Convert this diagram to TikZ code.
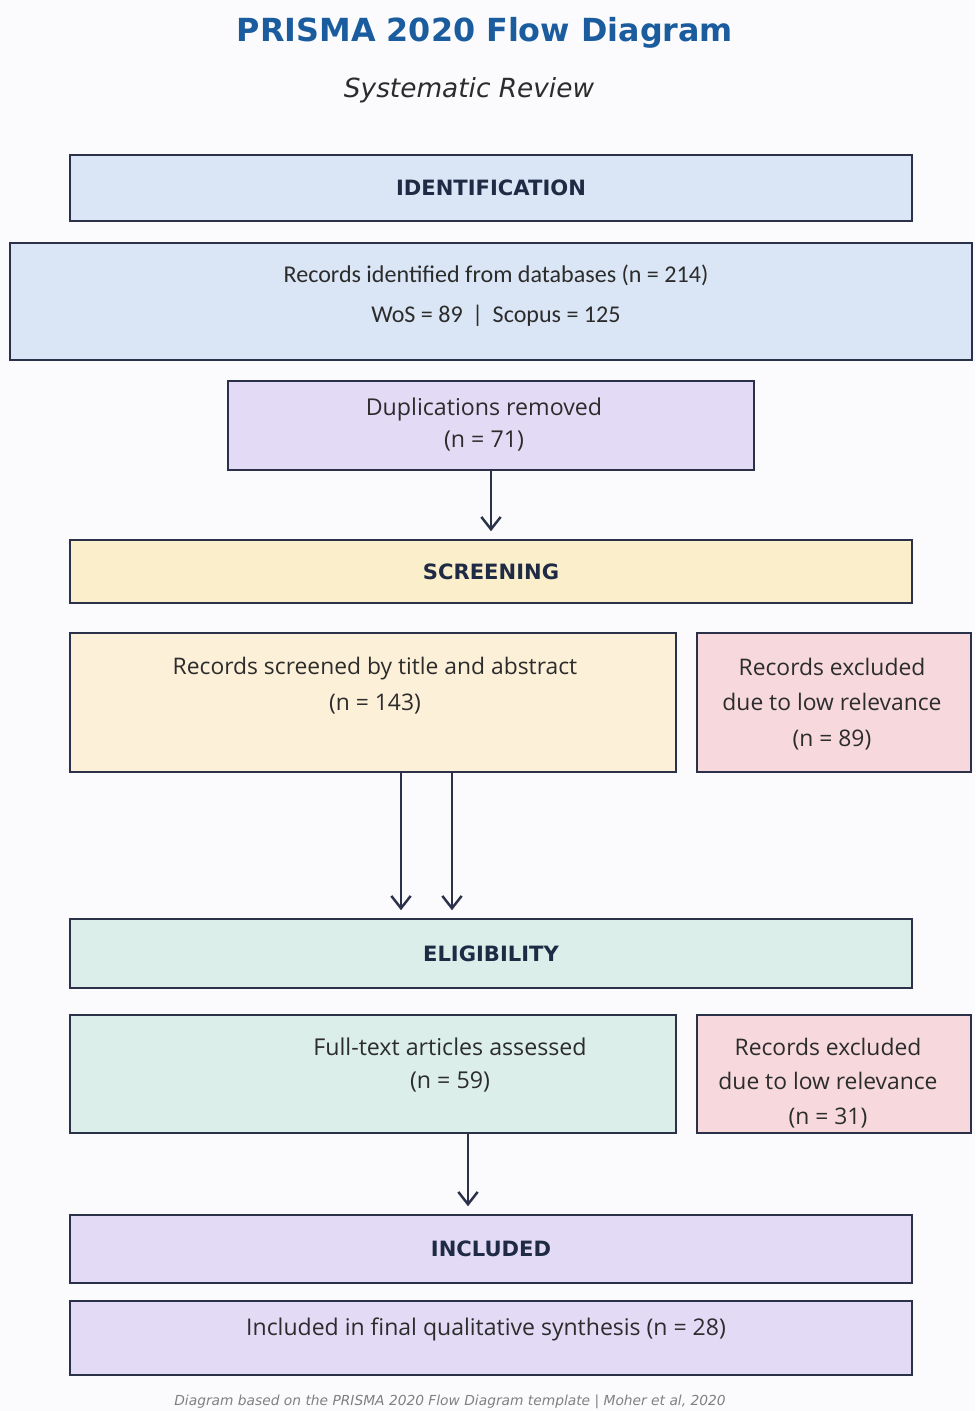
\documentclass[tikz,border=0pt]{standalone}
\usepackage{fontspec}
\setmainfont{DejaVu Sans}
\newfontfamily\bodyfont{Open Sans}
\newfontfamily\idfont{Carlito}
\usetikzlibrary{arrows.meta}

\definecolor{edge}{HTML}{2A3149}
\definecolor{bgcol}{HTML}{FBFBFD}
\definecolor{titleblue}{HTML}{1B5C9E}
\definecolor{headtxt}{HTML}{1F2A44}
\definecolor{bodytxt}{HTML}{2C2C2C}
\definecolor{idfill}{HTML}{DAE6F5}
\definecolor{lavfill}{HTML}{E3DBF6}
\definecolor{scrhfill}{HTML}{FBEFCB}
\definecolor{scrfill}{HTML}{FDF0D8}
\definecolor{excfill}{HTML}{F6D8DD}
\definecolor{eligfill}{HTML}{DBEEEA}

\begin{document}
\begin{tikzpicture}[x=0.02cm, y=-0.02cm,
        box/.style={rectangle, draw=edge, line width=1.1pt, inner sep=0pt, outer sep=0pt},
        header/.style={box, minimum width=16.84cm, text=headtxt,
            font=\bfseries\fontsize{12}{14}\selectfont},
        bodytext/.style={font=\bodyfont\fontsize{13}{20.4}\selectfont, text=bodytxt, align=center},
        flow/.style={draw=edge, line width=1.4pt, shorten >=5pt,
            -{Straight Barb[length=7pt, width=11pt]}}
    ]
    % Sfondo e cornice
    \fill[bgcol] (0,0) rectangle (975,1411);
    \useasboundingbox (0,0) rectangle (975,1411);

    % Titolo
    \node[font=\bfseries\fontsize{18.1}{21}\selectfont, text=titleblue] (title) at (485,33) {PRISMA 2020 Flow Diagram};
    \node[font=\itshape\fontsize{15}{18}\selectfont, text=bodytxt] (subtitle) at (469,90) {Systematic Review};

    % Identification
    \node[header, fill=idfill, minimum height=1.32cm] (idhead) at (491,188) {IDENTIFICATION};
    \node[box, fill=idfill, minimum width=19.24cm, minimum height=2.34cm] (ids) at (491,301.5) {};
    \node[font=\idfont\fontsize{13.7}{22.7}\selectfont, text=bodytxt, align=center] (idstext) at (496,296)
        {Records identified from databases (n = 214)\\ WoS = 89 \,|\, Scopus = 125};
    \node[box, fill=lavfill, minimum width=10.52cm, minimum height=1.78cm] (dup) at (491,425.5) {};
    \node[bodytext, font=\bodyfont\fontsize{13.2}{18.7}\selectfont] (duptext) at (484,424.5)
        {Duplications removed\\ (n = 71)};

    % Screening
    \node[header, fill=scrhfill, minimum height=1.26cm] (scrhead) at (491,571.5) {SCREENING};
    \node[box, fill=scrfill, minimum width=12.12cm, minimum height=2.78cm] (scr) at (373,702.5) {};
    \node[bodytext] (scrtext) at (375,686) {Records screened by title and abstract\\ (n = 143)};
    \node[box, fill=excfill, minimum width=5.48cm, minimum height=2.78cm] (exc1) at (834,702.5) {};
    \node[bodytext] (exc1text) at (832,704) {Records excluded\\ due to low relevance\\ (n = 89)};

    % Eligibility
    \node[header, fill=eligfill, minimum height=1.38cm] (elighead) at (491,953.5) {ELIGIBILITY};
    \node[box, fill=eligfill, minimum width=12.12cm, minimum height=2.36cm] (full) at (373,1074) {};
    \node[bodytext, font=\bodyfont\fontsize{13.2}{19.3}\selectfont] (fulltext) at (450,1065)
        {Full-text articles assessed\\ (n = 59)};
    \node[box, fill=excfill, minimum width=5.48cm, minimum height=2.36cm] (exc2) at (834,1074) {};
    \node[bodytext, font=\bodyfont\fontsize{13}{19.8}\selectfont] (exc2text) at (828,1083)
        {Records excluded\\ due to low relevance\\ (n = 31)};

    % Included
    \node[header, fill=lavfill, minimum height=1.36cm] (inchead) at (491,1249) {INCLUDED};
    \node[box, fill=lavfill, minimum width=16.84cm, minimum height=1.48cm] (inc) at (491,1338) {};
    \node[bodytext, font=\bodyfont\fontsize{13.1}{16}\selectfont] (inctext) at (486,1329)
        {Included in final qualitative synthesis (n = 28)};

    % Frecce
    \coordinate (a1) at (401,0);
    \coordinate (a2) at (452,0);
    \coordinate (a3) at (468,0);
    \draw[flow] (dup.south) -- (scrhead.north);
    \draw[flow] (a1 |- scr.south) -- (a1 |- elighead.north);
    \draw[flow] (a2 |- scr.south) -- (a2 |- elighead.north);
    \draw[flow] (a3 |- full.south) -- (a3 |- inchead.north);

    % Nota sotto
    \node[font=\itshape\fontsize{7.85}{9}\selectfont, text=gray] (note) at (450,1402)
        {Diagram based on the PRISMA 2020 Flow Diagram template | Moher et al, 2020};
\end{tikzpicture}
\end{document}
